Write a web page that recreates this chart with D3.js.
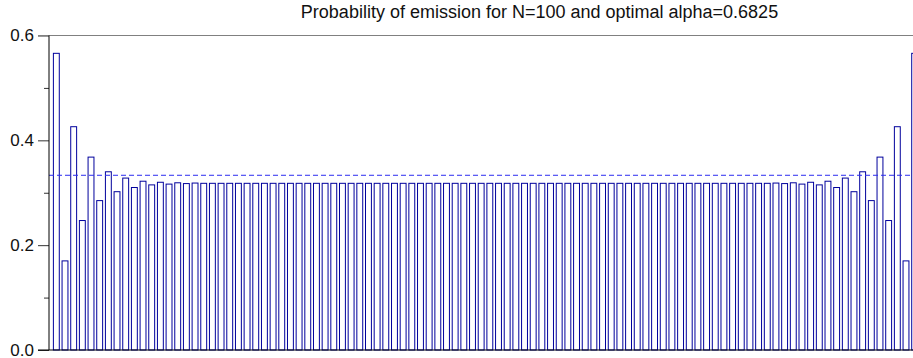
<!DOCTYPE html>
<html>
<head>
<meta charset="utf-8">
<script src="https://cdn.jsdelivr.net/npm/d3@7"></script>
<style>
  html, body { margin: 0; padding: 0; background: #fff; }
  svg { display: block; }
  text { font-family: "Liberation Sans", Arial, sans-serif; }
</style>
</head>
<body>
<svg id="chart" width="913" height="358"></svg>
<script>
// Emission probability per element (1..100)
const elements = d3.range(1, 101);
const probability = [
  0.566, 0.170, 0.426, 0.247, 0.368, 0.285, 0.340, 0.302, 0.328, 0.310,
  0.322, 0.315, 0.320, 0.3165, 0.319, 0.3175, 0.3185, 0.318, 0.318, 0.318,
  0.318, 0.318, 0.318, 0.318, 0.318, 0.318, 0.318, 0.318, 0.318, 0.318,
  0.318, 0.318, 0.318, 0.318, 0.318, 0.318, 0.318, 0.318, 0.318, 0.318,
  0.318, 0.318, 0.318, 0.318, 0.318, 0.318, 0.318, 0.318, 0.318, 0.318,
  0.318, 0.318, 0.318, 0.318, 0.318, 0.318, 0.318, 0.318, 0.318, 0.318,
  0.318, 0.318, 0.318, 0.318, 0.318, 0.318, 0.318, 0.318, 0.318, 0.318,
  0.318, 0.318, 0.318, 0.318, 0.318, 0.318, 0.318, 0.318, 0.318, 0.318,
  0.318, 0.318, 0.318, 0.3185, 0.3175, 0.319, 0.3165, 0.320, 0.315, 0.322,
  0.310, 0.328, 0.302, 0.340, 0.285, 0.368, 0.247, 0.426, 0.170, 0.566
];
const referenceLevel = 1 / 3;
const majorTicks = [0.0, 0.2, 0.4, 0.6];
const minorTicks = [0.1, 0.3, 0.5];
const tickLabels = ["0.0", "0.2", "0.4", "0.6"];
const titleText = "Probability of emission for N=100 and optimal alpha=0.6825";

const svg = d3.select("#chart");
const W = 913;
const axisX = 49;

const x = d3.scaleLinear().domain([0.5, 100.5]).range([52, 919]);
const y = d3.scaleLinear().domain([0, 0.6]).range([350, 35.5]);
const pitch = x(2) - x(1);
const barW = pitch * 0.68;

// Title
svg.append("text")
  .attr("x", 539.5)
  .attr("y", 17.5)
  .attr("text-anchor", "middle")
  .attr("font-size", 18)
  .attr("fill", "#111")
  .text(titleText);

// Bars (outlined)
svg.append("g")
  .selectAll("rect")
  .data(elements)
  .join("rect")
  .attr("x", d => x(d) - barW / 2)
  .attr("y", (d, i) => y(probability[i]))
  .attr("width", barW)
  .attr("height", (d, i) => y(0) - y(probability[i]))
  .attr("fill", "#fff")
  .attr("stroke", "#00009c")
  .attr("stroke-width", 1);

// Reference level (dashed)
svg.append("line")
  .attr("x1", axisX).attr("x2", W)
  .attr("y1", y(referenceLevel)).attr("y2", y(referenceLevel))
  .attr("stroke", "#2b2bf0")
  .attr("stroke-width", 1)
  .attr("stroke-dasharray", "5,3");

// Major ticks + labels
const yAxis = d3.axisLeft(y)
  .tickValues(majorTicks)
  .tickSize(11)
  .tickPadding(4)
  .tickFormat((d, i) => tickLabels[i]);
const gAxis = svg.append("g")
  .attr("transform", `translate(${axisX},0)`)
  .call(yAxis);
gAxis.select(".domain").remove();
gAxis.selectAll(".tick line").attr("stroke", "#333");
gAxis.selectAll(".tick text")
  .attr("font-size", 17)
  .attr("fill", "#111")
  .attr("font-family", "'Liberation Sans', Arial, sans-serif");

// Minor ticks
const gMinor = svg.append("g")
  .attr("transform", `translate(${axisX},0)`)
  .call(d3.axisLeft(y).tickValues(minorTicks).tickSize(5).tickFormat(""));
gMinor.select(".domain").remove();
gMinor.selectAll(".tick line").attr("stroke", "#333");

// Frame: top (gray), left axis and baseline (black)
svg.append("line")
  .attr("x1", 38).attr("x2", W)
  .attr("y1", y(0.6)).attr("y2", y(0.6))
  .attr("stroke", "#808080").attr("stroke-width", 1.2);
svg.append("line")
  .attr("x1", axisX).attr("x2", axisX)
  .attr("y1", y(0.6)).attr("y2", y(0))
  .attr("stroke", "#000").attr("stroke-width", 1);
svg.append("line")
  .attr("x1", 38).attr("x2", W)
  .attr("y1", y(0)).attr("y2", y(0))
  .attr("stroke", "#000").attr("stroke-width", 1.2);
</script>
</body>
</html>
